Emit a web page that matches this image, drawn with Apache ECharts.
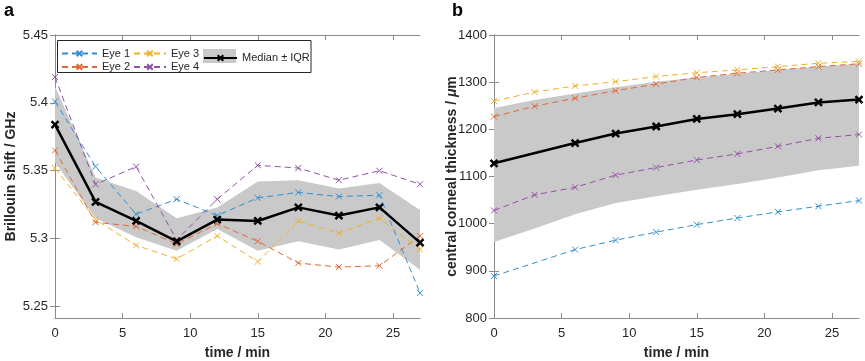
<!DOCTYPE html>
<html>
<head>
<meta charset="utf-8">
<script src="https://cdn.jsdelivr.net/npm/echarts@6/dist/echarts.min.js"></script>
<style>
  html, body { margin: 0; padding: 0; background: #fff; }
  #chart { width: 865px; height: 361px; }
</style>
</head>
<body>
<div id="chart"></div>
<script>
// ---- panel a: Brillouin shift (GHz) ----
const timeA = [0, 3, 6, 9, 12, 15, 18, 21, 24, 27];
const shiftEye1 = [5.401, 5.353, 5.318, 5.329, 5.317, 5.330, 5.334, 5.331, 5.332, 5.260];
const shiftEye2 = [5.365, 5.312, 5.309, 5.296, 5.311, 5.298, 5.282, 5.279, 5.280, 5.302];
const shiftEye3 = [5.352, 5.314, 5.295, 5.285, 5.302, 5.283, 5.313, 5.304, 5.315, 5.292];
const shiftEye4 = [5.419, 5.340, 5.353, 5.299, 5.329, 5.354, 5.352, 5.343, 5.350, 5.340];
const shiftMedian = [5.384, 5.327, 5.313, 5.298, 5.314, 5.313, 5.323, 5.317, 5.323, 5.297];
const shiftIqrLow = [5.356, 5.315, 5.301, 5.291, 5.307, 5.291, 5.298, 5.292, 5.299, 5.277];
const shiftIqrHigh = [5.412, 5.345, 5.335, 5.315, 5.323, 5.342, 5.343, 5.337, 5.341, 5.321];
const shiftTicks = [5.25, 5.3, 5.35, 5.4, 5.45];

// ---- panel b: central corneal thickness (um) ----
const timeB = [0, 3, 6, 9, 12, 15, 18, 21, 24, 27];
const thickEye1 = [889, null, 945, 965, 982, 998, 1012, 1025, 1037, 1049];
const thickEye2 = [1227, 1249, 1266, 1282, 1296, 1310, 1319, 1326, 1333, 1339];
const thickEye3 = [1260, 1279, 1292, 1301, 1312, 1320, 1326, 1333, 1340, 1344];
const thickEye4 = [1028, 1061, 1077, 1103, 1119, 1135, 1148, 1164, 1181, 1189];
const thickMedian = [1128, null, 1171, 1191, 1206, 1222, 1232, 1244, 1257, 1263];
const thickIqrLow = [961, 990, 1020, 1044, 1058, 1072, 1084, 1098, 1113, 1123];
const thickIqrHigh = [1245, 1262, 1276, 1289, 1301, 1310, 1318, 1326, 1333, 1339];
const thickTicks = [800, 900, 1000, 1100, 1200, 1300, 1400];

const timeTicks = [0, 5, 10, 15, 20, 25];

const eyeColors = ["#2f8fd0", "#de6a35", "#edb12c", "#9450a6"];
const xMark = "path://M0,0L10,10M0,10L10,0";
const axisColor = "#8a8a8a";
const textColor = "#262626";

const pairs = (xs, ys) => xs.map((x, i) => [x, ys[i]]).filter((p) => p[1] != null);

function eyeSeries(name, color, idx, xs, ys) {
  return {
    name: name,
    type: "line",
    xAxisIndex: idx * 2,
    yAxisIndex: idx * 2,
    data: pairs(xs, ys),
    symbol: xMark,
    symbolSize: 6,
    itemStyle: { color: color, borderColor: color, borderWidth: 1 },
    lineStyle: { color: color, width: 1, type: [6, 4] },
    z: 3,
  };
}

function medianSeries(idx, xs, ys) {
  return {
    name: "Median ± IQR",
    type: "line",
    xAxisIndex: idx * 2,
    yAxisIndex: idx * 2,
    data: pairs(xs, ys),
    symbol: xMark,
    symbolSize: 7,
    itemStyle: { color: "#000", borderColor: "#000", borderWidth: 2.5 },
    lineStyle: { color: "#000", width: 2.5 },
    z: 5,
  };
}

// IQR band drawn as one polygon through the axis scales
function bandSeries(idx, xs, low, high) {
  return {
    type: "custom",
    xAxisIndex: idx * 2,
    yAxisIndex: idx * 2,
    silent: true,
    z: 1,
    data: xs.map((x, i) => [x, low[i], high[i]]),
    encode: { x: 0, y: [1, 2] },
    renderItem: function (params, api) {
      if (params.dataIndex !== 0) return null;
      const top = xs.map((x, i) => api.coord([x, high[i]]));
      const bottom = xs.map((x, i) => api.coord([x, low[i]])).reverse();
      return {
        type: "polygon",
        shape: { points: top.concat(bottom) },
        style: { fill: "#c9c9c9" },
      };
    },
  };
}

function xAxes(grid) {
  const base = {
    type: "value",
    gridIndex: grid,
    min: 0,
    max: 27,
    axisLine: { show: true, lineStyle: { color: axisColor, width: 1 } },
    axisTick: { show: true, inside: true, length: 5, customValues: timeTicks, lineStyle: { color: axisColor } },
    splitLine: { show: false },
  };
  return [
    Object.assign({}, base, {
      position: "bottom",
      axisLabel: { customValues: timeTicks, color: textColor, fontSize: 13, fontFamily: "Liberation Sans", margin: 9 },
      name: "time / min",
      nameLocation: "middle",
      nameGap: 28,
      nameMoveOverlap: false,
      nameTextStyle: { color: textColor, fontSize: 14, fontWeight: "bold", fontFamily: "Liberation Sans" },
    }),
    Object.assign({}, base, { position: "top", axisLabel: { show: false } }),
  ];
}

function yAxes(grid, min, max, ticks, name, nameGap) {
  const base = {
    type: "value",
    gridIndex: grid,
    min: min,
    max: max,
    axisLine: { show: true, lineStyle: { color: axisColor, width: 1 } },
    axisTick: { show: true, inside: true, length: 5, customValues: ticks, lineStyle: { color: axisColor } },
    splitLine: { show: false },
  };
  return [
    Object.assign({}, base, {
      position: "left",
      axisLabel: { customValues: ticks, color: textColor, fontSize: 13, fontFamily: "Liberation Sans", margin: 7,
        formatter: (v) => String(v) },
      name: name,
      nameLocation: "middle",
      nameGap: nameGap,
      nameMoveOverlap: false,
      nameTextStyle: { color: textColor, fontSize: 14, fontWeight: "bold", fontFamily: "Liberation Sans",
        rich: { it: { fontStyle: "italic", fontWeight: "bold", fontSize: 14, color: textColor, fontFamily: "Liberation Sans" } } },
    }),
    Object.assign({}, base, { position: "right", axisLabel: { show: false } }),
  ];
}

// one legend component per entry so the 2x2 grid + median entry line up like the original box
const legendBase = {
  z: 20,
  padding: 0,
  itemHeight: 7,
  selectedMode: false,
  textStyle: { color: textColor, fontSize: 11, fontFamily: "Liberation Sans" },
};
const legendRow1 = 48;
const legendRow2 = 61.5;

const chart = echarts.init(document.getElementById("chart"));
chart.setOption({
  animation: false,
  backgroundColor: "#fff",
  grid: [
    { left: 55, top: 35, width: 365, height: 283, outerBoundsMode: "none" },
    { left: 494, top: 35, width: 365, height: 283, outerBoundsMode: "none" },
  ],
  xAxis: xAxes(0).concat(xAxes(1)),
  yAxis: yAxes(0, 5.2415, 5.45, shiftTicks, "Brillouin shift / GHz", 37)
    .concat(yAxes(1, 800, 1400, thickTicks, "central corneal thickness / {it|μ}m", 35)),
  legend: [
    Object.assign({}, legendBase, { data: ["Eye 1"], left: 61, top: legendRow1, itemWidth: 35 }),
    Object.assign({}, legendBase, { data: ["Eye 3"], left: 133, top: legendRow1, itemWidth: 32 }),
    Object.assign({}, legendBase, { data: ["Eye 2"], left: 61, top: legendRow2, itemWidth: 35 }),
    Object.assign({}, legendBase, { data: ["Eye 4"], left: 133, top: legendRow2, itemWidth: 32 }),
    Object.assign({}, legendBase, { data: ["Median ± IQR"], left: 203, top: 52.5, itemWidth: 33 }),
  ],
  graphic: [
    { type: "rect", z: 10, shape: { x: 57.5, y: 40.5, width: 253.5, height: 32 }, style: { fill: "#fff", stroke: "#262626", lineWidth: 1 } },
    { type: "rect", z: 11, shape: { x: 203, y: 49, width: 33, height: 14 }, style: { fill: "#c9c9c9" } },
    { type: "text", left: 4, top: 2, style: { text: "a", fill: "#000", font: "bold 18px Liberation Sans" } },
    { type: "text", left: 452, top: 2, style: { text: "b", fill: "#000", font: "bold 18px Liberation Sans" } },
  ],
  series: [
    bandSeries(0, timeA, shiftIqrLow, shiftIqrHigh),
    eyeSeries("Eye 1", eyeColors[0], 0, timeA, shiftEye1),
    eyeSeries("Eye 2", eyeColors[1], 0, timeA, shiftEye2),
    eyeSeries("Eye 3", eyeColors[2], 0, timeA, shiftEye3),
    eyeSeries("Eye 4", eyeColors[3], 0, timeA, shiftEye4),
    medianSeries(0, timeA, shiftMedian),
    bandSeries(1, timeB, thickIqrLow, thickIqrHigh),
    eyeSeries("Eye 1", eyeColors[0], 1, timeB, thickEye1),
    eyeSeries("Eye 2", eyeColors[1], 1, timeB, thickEye2),
    eyeSeries("Eye 3", eyeColors[2], 1, timeB, thickEye3),
    eyeSeries("Eye 4", eyeColors[3], 1, timeB, thickEye4),
    medianSeries(1, timeB, thickMedian),
  ],
});
</script>
</body>
</html>
